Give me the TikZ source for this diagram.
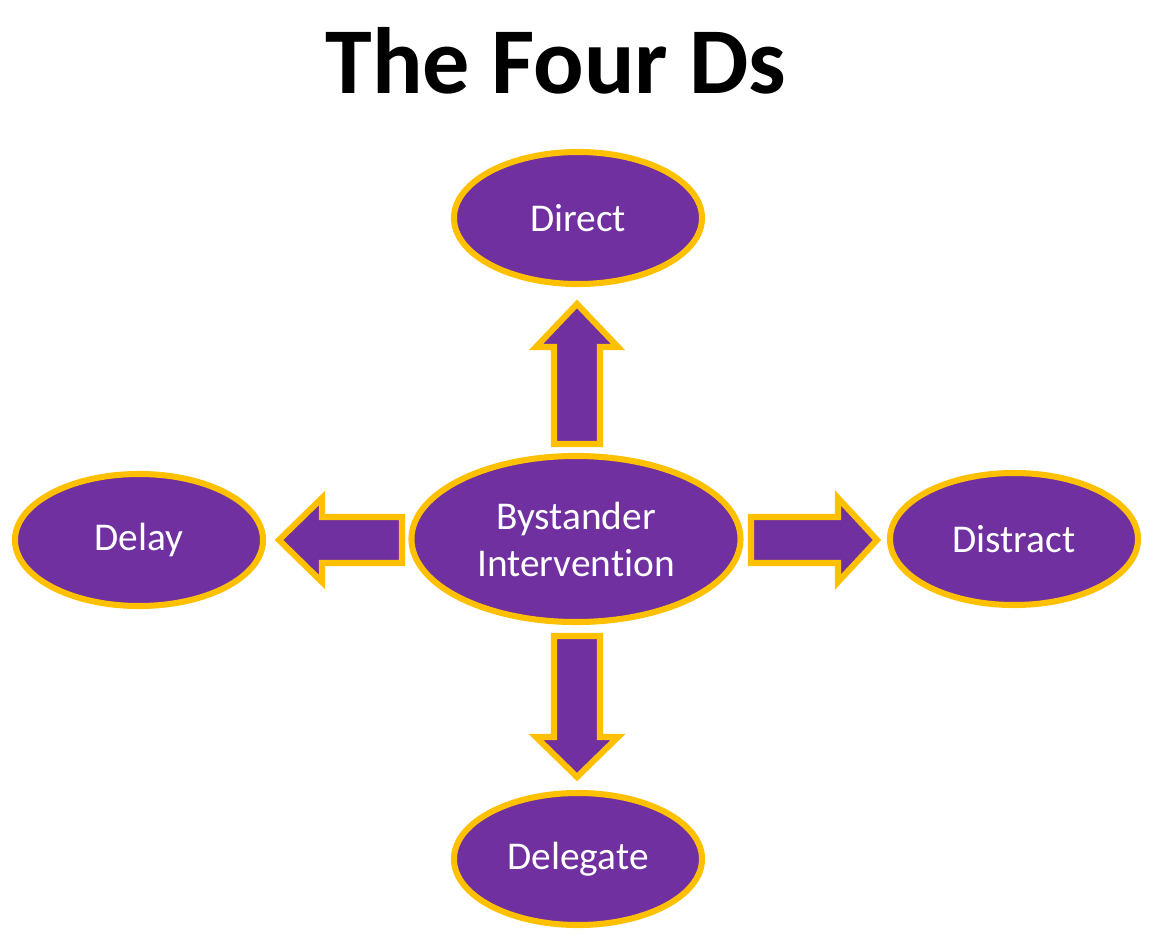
\documentclass[tikz,border=0pt]{standalone}
\usepackage{fontspec}
\setmainfont[Ligatures=NoCommon]{Carlito}
\usetikzlibrary{shapes.geometric}
\definecolor{dpurple}{HTML}{7030A0}
\definecolor{dgold}{HTML}{FFC000}
\begin{document}
\begin{tikzpicture}[x=0.025cm,y=-0.025cm,
  dball/.style={ellipse, draw=dgold, fill=dpurple, line width=4.3pt, inner sep=0pt,
    minimum width=6.2cm, minimum height=3.3cm, text=white, align=center,
    font=\fontsize{28}{33.4}\selectfont},
  blockarrow/.style={draw=dgold, fill=dpurple, line width=4.3pt, line join=miter, miter limit=10}]
\useasboundingbox (0,0) rectangle (1160,941);
\fill[white] (0,0) rectangle (1160,941);
\node[anchor=base, font=\fontsize{67}{70}\bfseries\selectfont] (title) at (556,93) {The Four Ds};
\node[dball, minimum width=8.225cm, minimum height=4.15cm] (by) at (576,539) {Bystander\\Intervention};
\node[dball] (direct) at (578,218) {Direct};
\node[dball] (delay) at (139,540) {Delay};
\node[dball] (distract) at (1014,539) {Distract};
\node[dball] (delegate) at (578,859) {Delegate};
% up arrow
\draw[blockarrow] (554,444) -- (554,347) -- (536,347) -- (577,304) -- (618,347) -- (600,347) -- (600,444) -- cycle;
% down arrow
\draw[blockarrow] (554,636) -- (554,737) -- (536,737) -- (577,777) -- (618,737) -- (600,737) -- (600,636) -- cycle;
% left arrow
\draw[blockarrow] (402,517) -- (322,517) -- (322,498) -- (279,540) -- (322,582) -- (322,563) -- (402,563) -- cycle;
% right arrow
\draw[blockarrow] (751,517) -- (838,517) -- (838,498) -- (877,540) -- (838,582) -- (838,563) -- (751,563) -- cycle;
\end{tikzpicture}
\end{document}
